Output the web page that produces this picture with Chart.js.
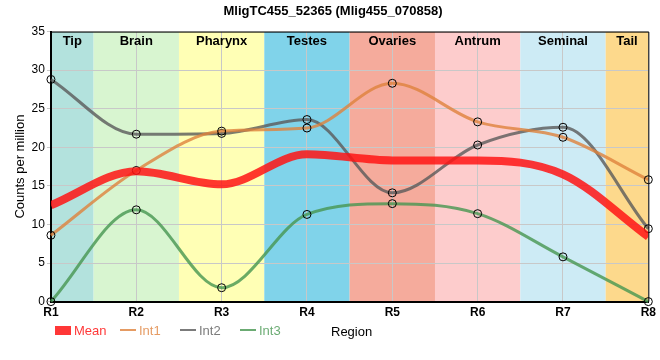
<!DOCTYPE html>
<html>
<head>
<meta charset="utf-8">
<script src="https://cdn.jsdelivr.net/npm/chart.js@4.4.0/dist/chart.umd.min.js"></script>
<style>
  html, body { margin: 0; padding: 0; background: #fff; }
  #wrap { width: 660px; height: 360px; }
</style>
</head>
<body>
<div id="wrap"><canvas id="chart"></canvas></div>
<script>
const categories = ['R1', 'R2', 'R3', 'R4', 'R5', 'R6', 'R7', 'R8'];
const meanValues = [12.5, 16.9, 15.2, 19.1, 18.3, 18.3, 16.5, 8.4];
const int1Values = [8.6, 17.0, 22.1, 22.5, 28.3, 23.3, 21.3, 15.8];
const int2Values = [28.8, 21.7, 21.8, 23.6, 14.1, 20.3, 22.6, 9.45];
const int3Values = [0, 11.9, 1.8, 11.3, 12.7, 11.4, 5.8, 0];

// regions as spans in category index units
const regionNames = ['Tip', 'Brain', 'Pharynx', 'Testes', 'Ovaries', 'Antrum', 'Seminal', 'Tail'];
const regionStart = [0, 0.5, 1.5, 2.5, 3.5, 4.5, 5.5, 6.5];
const regionEnd = [0.5, 1.5, 2.5, 3.5, 4.5, 5.5, 6.5, 7];
const regionColors = ['#b3e2dd', '#d8f5d0', '#ffffb5', '#80d3ea', '#f5ab9c', '#fdcccc', '#cdebf5', '#fdd98c'];

const COL_MEAN = 'rgba(255, 20, 20, 0.85)';
const COL_INT1 = 'rgba(222, 130, 60, 0.8)';
const COL_INT2 = 'rgba(90, 90, 90, 0.8)';
const COL_INT3 = 'rgba(70, 150, 80, 0.8)';
const FONT = '"Liberation Sans", Arial, sans-serif';

const regionPlugin = {
    id: 'regions',
    beforeDraw(chart) {
        const { ctx, chartArea, scales } = chart;
        ctx.save();
        regionNames.forEach((name, i) => {
            const x0 = scales.x.getPixelForValue(regionStart[i]);
            const x1 = scales.x.getPixelForValue(regionEnd[i]);
            ctx.fillStyle = regionColors[i];
            ctx.fillRect(x0, chartArea.top, x1 - x0, chartArea.bottom - chartArea.top);
        });
        ctx.restore();
    },
    afterDraw(chart) {
        const { ctx, chartArea, scales } = chart;
        ctx.save();
        // band labels
        ctx.font = 'bold 13px ' + FONT;
        ctx.fillStyle = '#000';
        ctx.textAlign = 'center';
        ctx.textBaseline = 'middle';
        regionNames.forEach((name, i) => {
            const x0 = scales.x.getPixelForValue(regionStart[i]);
            const x1 = scales.x.getPixelForValue(regionEnd[i]);
            ctx.fillText(name, (x0 + x1) / 2, chartArea.top + 10);
        });
        // top/right frame
        ctx.strokeStyle = '#000';
        ctx.lineWidth = 1;
        ctx.beginPath();
        ctx.moveTo(chartArea.left, chartArea.top + 0.5);
        ctx.lineTo(chartArea.right + 0.5, chartArea.top + 0.5);
        ctx.lineTo(chartArea.right + 0.5, chartArea.bottom);
        ctx.stroke();

        // legend + x title
        const ly = 330;
        ctx.font = '13px ' + FONT;
        ctx.textAlign = 'left';
        ctx.fillStyle = COL_MEAN;
        ctx.fillRect(55, ly - 4, 16, 9);
        ctx.fillText('Mean', 74, ly + 1);
        const items = [['Int1', COL_INT1, 120], ['Int2', COL_INT2, 180], ['Int3', COL_INT3, 240]];
        items.forEach(([label, col, x]) => {
            ctx.strokeStyle = col;
            ctx.lineWidth = 2;
            ctx.beginPath();
            ctx.moveTo(x, ly);
            ctx.lineTo(x + 16, ly);
            ctx.stroke();
            ctx.fillStyle = col;
            ctx.fillText(label, x + 19, ly + 1);
        });
        ctx.fillStyle = '#000';
        ctx.fillText('Region', 331, ly + 2);
        ctx.restore();
    }
};

const pointStyle = {
    pointRadius: 4,
    pointBackgroundColor: 'rgba(0,0,0,0)',
    pointBorderColor: '#000',
    pointBorderWidth: 1,
    borderWidth: 3,
    cubicInterpolationMode: 'monotone',
    clip: false
};

new Chart(document.getElementById('chart'), {
    type: 'line',
    data: {
        labels: categories,
        datasets: [
            { label: 'Mean', data: meanValues, borderColor: COL_MEAN, borderWidth: 8, pointRadius: 0,
              cubicInterpolationMode: 'monotone', clip: 0 },
            Object.assign({ label: 'Int1', data: int1Values, borderColor: COL_INT1 }, pointStyle),
            Object.assign({ label: 'Int2', data: int2Values, borderColor: COL_INT2 }, pointStyle),
            Object.assign({ label: 'Int3', data: int3Values, borderColor: COL_INT3 }, pointStyle)
        ]
    },
    options: {
        responsive: true,
        maintainAspectRatio: false,
        animation: false,
        layout: { padding: { left: 13, right: 7, top: 0, bottom: 36 } },
        plugins: {
            legend: { display: false },
            tooltip: { enabled: false },
            title: {
                display: true,
                text: 'MligTC455_52365 (Mlig455_070858)',
                color: '#000',
                font: { size: 13, weight: 'bold', family: FONT },
                padding: { top: 4, bottom: 12 }
            }
        },
        scales: {
            x: {
                offset: false,
                grid: { color: '#c8c8c8', drawTicks: false },
                border: { color: '#000', width: 2 },
                ticks: { color: '#000', padding: 4, font: { size: 12, weight: 'bold', family: FONT } }
            },
            y: {
                min: 0, max: 35,
                ticks: { stepSize: 5, color: '#000', padding: 2, font: { size: 12, family: FONT } },
                grid: { color: '#c8c8c8', drawTicks: true, tickLength: 4 },
                border: { color: '#000', width: 2 },
                title: { display: true, text: 'Counts per million', color: '#000',
                         font: { size: 13, family: FONT }, padding: { top: 0, bottom: 1 } }
            }
        }
    },
    plugins: [regionPlugin]
});
</script>
</body>
</html>
